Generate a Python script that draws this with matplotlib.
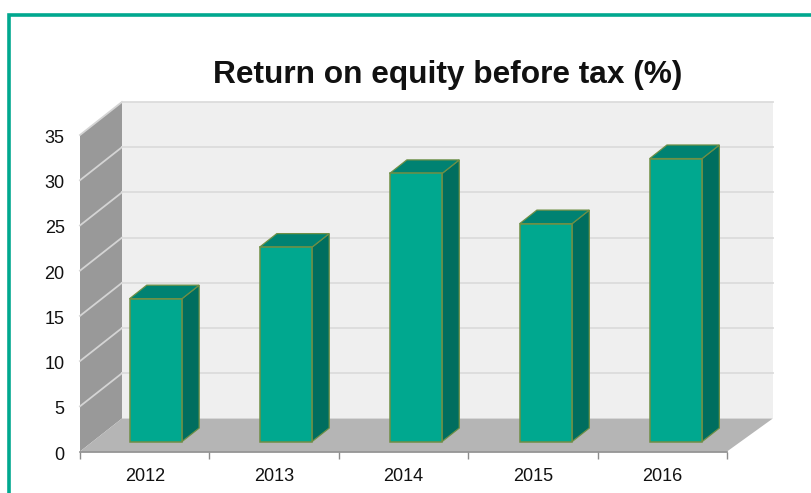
import matplotlib
matplotlib.use("Agg")
import matplotlib.pyplot as plt
from matplotlib.patches import Polygon, Rectangle
from matplotlib.transforms import ScaledTranslation

years = ["2012", "2013", "2014", "2015", "2016"]
returns = [15.8, 21.5, 29.65, 24.1, 31.3]
y_ticks = [0, 5, 10, 15, 20, 25, 30, 35]
title = "Return on equity before tax (%)"

W, H = 812, 493
TEAL = "#00a88f"
TOP = "#008272"
SIDE = "#006e5f"
EDGE = "#6f8f45"

# depth of the fake 3d box, in data units
DEPTH_X = 42 / 129.4
DEPTH_Y = 33 / 9.03
BAR_W = 0.405
D0, D1 = 0.3, 0.71
BACK_RIGHT = 5.03  # back wall runs a bit wider than the front edge
BAR_DRIFT = 0.005  # same for the bars, slight perspective
BAR_SHIFT = -0.012

plt.rcParams["font.family"] = ["Liberation Sans", "DejaVu Sans"]

fig = plt.figure(figsize=(W / 100, H / 100), dpi=100)
ax = fig.add_axes([80 / W, 1 - 451.5 / H, 647 / W, 316.5 / H])
ax.set_xlim(0, 5)
ax.set_ylim(0, 35)
ax.patch.set_visible(False)


def proj(x, y, d):
    return (x + d * DEPTH_X, y + d * DEPTH_Y)


def face(points, color, edge="none", lw=0.0, z=1):
    ax.add_patch(Polygon([proj(*p) for p in points], closed=True, facecolor=color,
                         edgecolor=edge, linewidth=lw, clip_on=False, zorder=z, joinstyle="miter"))


# walls and floor
face([(0, 0, 1), (BACK_RIGHT, 0, 1), (BACK_RIGHT, 35, 1), (0, 35, 1)], "#efefef", z=1)
face([(0, 0, 0), (0, 0, 1), (0, 35, 1), (0, 35, 0)], "#999999", z=1)
face([(0, 0, 0), (5, 0, 0), (BACK_RIGHT, 0, 1), (0, 0, 1)], "#b5b5b5", z=1)

for t in y_ticks[1:]:
    xs, ys = zip(proj(0, t, 0), proj(0, t, 1), proj(BACK_RIGHT, t, 1))
    ax.plot(xs[:2], ys[:2], color="#d4d4d4", lw=1.3, clip_on=False, zorder=2)
    ax.plot(xs[1:], ys[1:], color="#dcdcdc", lw=1.3, clip_on=False, zorder=2)

# bars
for i, val in enumerate(returns):
    x0 = i + 0.5 - BAR_W / 2 + i * BAR_DRIFT + BAR_SHIFT
    x1 = x0 + BAR_W
    face([(x1, 0, D0), (x1, 0, D1), (x1, val, D1), (x1, val, D0)], SIDE, EDGE, 0.9, z=3)
    face([(x0, val, D0), (x1, val, D0), (x1, val, D1), (x0, val, D1)], TOP, EDGE, 0.9, z=3)
    face([(x0, 0, D0), (x1, 0, D0), (x1, val, D0), (x0, val, D0)], TEAL, EDGE, 1.1, z=4)

# axes
for name in ["top", "right", "left"]:
    ax.spines[name].set_visible(False)
ax.spines["bottom"].set_color("#8c8c8c")
ax.spines["bottom"].set_linewidth(1.2)
ax.set_xticks(range(6))
ax.set_xticklabels([])
ax.set_xticks([i + 0.5 for i in range(5)], minor=True)
ax.set_xticklabels(years, minor=True, fontsize=13, color="#111111")
ax.tick_params(axis="x", which="major", length=5, width=1, color="#8c8c8c")
ax.tick_params(axis="x", which="minor", length=0, pad=12)
ax.set_yticks(y_ticks)
ax.tick_params(axis="y", length=0, pad=11, labelsize=13, labelcolor="#111111")
# y labels sit a little under their tick position in the original
for lab in ax.get_yticklabels():
    lab.set_transform(lab.get_transform() + ScaledTranslation(0, -1.5 / 100, fig.dpi_scale_trans))

fig.text(448 / W, 1 - 75 / H, title, fontsize=22.8, fontweight="bold", ha="center", va="center", color="#111111")

# teal frame around the panel, open to the right and bottom edges
fig.add_artist(Rectangle((9 / W, -0.1), 1.2, 1.1 - 15 / H, transform=fig.transFigure, fill=False,
                         edgecolor=TEAL, linewidth=2.6))

fig.savefig("out.png", dpi=100)
